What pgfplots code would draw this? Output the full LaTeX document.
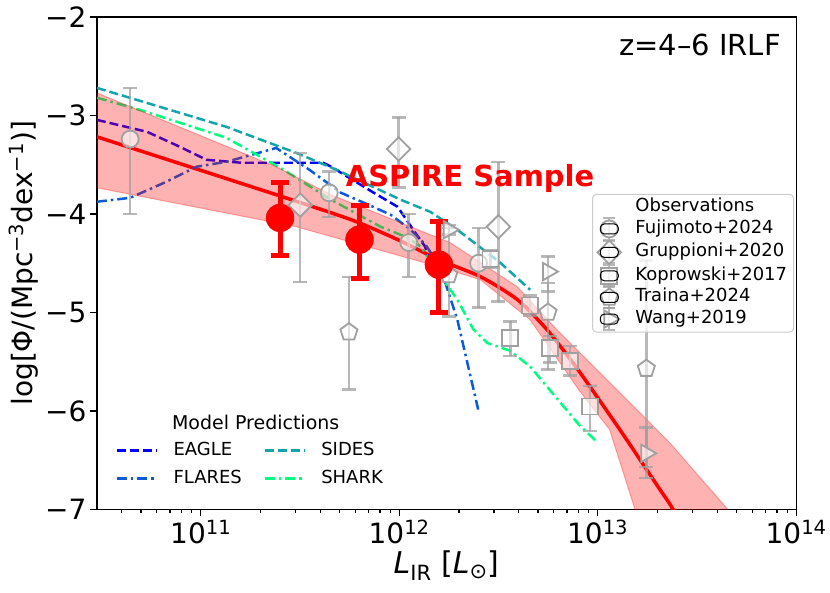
\documentclass[border=0pt]{standalone}
\usepackage{fontspec}
\setmainfont{DejaVu Sans}
\usepackage{pgfplots}
\usepackage{pgfplotstable}
\pgfplotsset{compat=1.18}
\usetikzlibrary{plotmarks}

\definecolor{eaglec}{RGB}{0,0,255}
\definecolor{flaresc}{RGB}{10,90,220}
\definecolor{sidesc}{RGB}{20,165,170}
\definecolor{sharkc}{RGB}{0,255,127}
\definecolor{obsgray}{RGB}{160,160,160}

% observations: x, log Phi, +err, -err
\pgfplotstableread{
x y ep em
4.41e10 -3.24 0.52 0.76
4.44e11 -3.785 0.215 0.245
1.117e12 -4.29 0.29 0.35
2.512e12 -4.50 0.36 0.45
}\fujimoto
\pgfplotstableread{
x y ep em
3.17e11 -3.91 0.53 0.78
9.93e11 -3.34 0.32 0.39
3.162e12 -4.13 0.66 0.76
}\gruppioni
\pgfplotstableread{
x y ep em
2.884e12 -4.455 0.09 0.09
4.57e12 -4.93 0.10 0.10
3.63e12 -5.26 0.17 0.18
5.75e12 -5.36 0.12 0.15
7.24e12 -5.49 0.15 0.15
9.12e12 -5.955 0.21 0.25
}\koprowski
\pgfplotstableread{
x y ep em
5.58e11 -5.20 0.56 0.58
1.778e12 -4.62 0.48 0.42
5.62e12 -5.00 0.30 0.58
1.758e13 -5.57 1.10 1.11
}\traina
\pgfplotstableread{
x y ep em
1.778e12 -4.16 0.05 0.05
5.62e12 -4.585 0.155 0.20
1.758e13 -6.43 0.26 0.14
}\wang
\pgfplotstableread{
x y ep em
2.51e11 -4.04 0.36 0.38
6.31e11 -4.26 0.35 0.40
1.585e12 -4.515 0.44 0.485
}\aspire

\pgfplotsset{
  obs/.style={only marks, color=obsgray, line width=1.8pt, mark size=8.5pt,
    mark options={fill=white, fill opacity=0.6, draw=obsgray, line width=1.8pt, #1},
    error bars/y dir=both, error bars/y explicit,
    error bars/error bar style={obsgray, line width=2.5pt, opacity=0.75},
    error bars/error mark options={rotate=90, mark size=7pt, obsgray, line width=2.5pt, opacity=0.75}},
  obs/.default={},
  obsleg/.style={legend image code/.code={
      \draw[obsgray, line width=2pt, opacity=0.75, overlay] (0pt,-11pt)--(0pt,11pt) (-6pt,-11pt)--(6pt,-11pt) (-6pt,11pt)--(6pt,11pt);
      \draw[obsgray, line width=1.8pt, mark size=8.5pt, #1] plot coordinates {(0pt,0pt)};
      \path (-9pt,-5pt) rectangle (9pt,5pt);}},
}

\begin{document}
\begin{tikzpicture}
\begin{axis}[
  scale only axis, width=700pt, height=493pt,
  xmode=log, xmin=3e10, xmax=1e14, ymin=-7, ymax=-2,
  xtick={1e11,1e12,1e13,1e14},
  xticklabels={10\textsuperscript{11},10\textsuperscript{12},10\textsuperscript{13},10\textsuperscript{14}},
  minor xtick={4e10,5e10,6e10,7e10,8e10,9e10,2e11,3e11,4e11,5e11,6e11,7e11,8e11,9e11,
    2e12,3e12,4e12,5e12,6e12,7e12,8e12,9e12,2e13,3e13,4e13,5e13,6e13,7e13,8e13,9e13},
  ytick={-7,-6,-5,-4,-3,-2},
  yticklabels={−7,−6,−5,−4,−3,−2},
  tick pos=left, tick align=outside,
  major tick length=7pt, minor tick length=4pt,
  tick style={black, line width=1.2pt},
  axis line style={line width=1.3pt},
  tick label style={font=\fontsize{28}{32}\selectfont},
  label style={font=\fontsize{28}{32}\selectfont},
  xlabel={\fontsize{30}{34}\selectfont\textit{L}\textsubscript{IR} [\textit{L}\textsubscript{⊙}]},
  ylabel={log[Φ/(Mpc\textsuperscript{−3}dex\textsuperscript{−1})]},
  legend columns=2,
  legend image code/.code={\draw[#1] (0pt,0pt)--(40pt,0pt);},
  legend style={at={(0.0264,0.140)}, anchor=north west, draw=none, fill=none,
    inner sep=0pt, font=\fontsize{18}{21.6}\selectfont, row sep=8pt,
    nodes={inner sep=1.5pt, text height=13pt, text depth=4pt},
    /tikz/every odd column/.append style={column sep=14pt},
    /tikz/every even column/.append style={column sep=20pt}},
  legend cell align=left,
]
% best fit
\addplot[red, line width=3.5pt, smooth, tension=0.4, forget plot] coordinates {
  (3.0e10,-3.217) (1.0e11,-3.557) (2.404e11,-3.805) (4.54e11,-3.988) (6.28e11,-4.089)
  (9.86e11,-4.262) (1.581e12,-4.464) (2.57e12,-4.637) (3.945e12,-4.870) (5.55e12,-5.174)
  (7.50e12,-5.51) (9.12e12,-5.75) (1.334e13,-6.23) (2.046e13,-6.79) (2.35e13,-6.97) (2.8e13,-7.25)};
% models
\addplot[eaglec, line width=2.5pt, dash pattern=on 9pt off 4pt] coordinates {
  (3.0e10,-3.045) (5.37e10,-3.166) (7.85e10,-3.318) (1.07e11,-3.45) (1.607e11,-3.48)
  (2.82e11,-3.48) (4.14e11,-3.48) (4.54e11,-3.52) (7.45e11,-3.785) (9.82e11,-3.927)
  (1.175e12,-4.16) (1.35e12,-4.33) (1.396e12,-4.43)};
\addlegendentry{EAGLE}
\addplot[sidesc, line width=2.5pt, dash pattern=on 9pt off 4pt] coordinates {
  (3.0e10,-2.72) (1.35e11,-3.116) (3.03e11,-3.38) (4.81e11,-3.55) (1.019e12,-3.856)
  (1.439e12,-3.98) (1.963e12,-4.16) (3.228e12,-4.495) (4.57e12,-4.77)};
\addlegendentry{SIDES}
\addplot[flaresc, line width=2.5pt, dash pattern=on 10pt off 4pt on 2.5pt off 4pt] coordinates {
  (3.0e10,-3.876) (4.41e10,-3.836) (6.53e10,-3.684) (9.55e10,-3.52) (1.35e11,-3.47)
  (2.40e11,-3.33) (3.52e11,-3.55) (5.09e11,-3.785) (6.64e11,-3.886) (9.06e11,-4.008)
  (1.143e12,-4.16) (1.358e12,-4.312) (1.614e12,-4.546) (1.963e12,-5.073) (2.50e12,-5.986)};
\addlegendentry{FLARES}
\addplot[sharkc, line width=2.5pt, dash pattern=on 10pt off 4pt on 2.5pt off 4pt] coordinates {
  (3.0e10,-2.82) (4.94e10,-2.943) (1.35e11,-3.227) (2.61e11,-3.55) (4.54e11,-3.856)
  (8.07e11,-4.13) (1.104e12,-4.24) (1.283e12,-4.33) (1.671e12,-4.67) (1.963e12,-4.87)
  (2.36e12,-5.17) (2.78e12,-5.31) (3.63e12,-5.39) (4.57e12,-5.55) (8.13e12,-6.15) (1.0e13,-6.32)};
\addlegendentry{SHARK}
% uncertainty band
\addplot[fill=red, fill opacity=0.3, draw=red, draw opacity=0.3, line width=1pt, forget plot] coordinates {
  (3.0e10,-2.771) (2.40e11,-3.521) (4.54e11,-3.805) (1.81e12,-4.292) (3.93e12,-4.738)
  (6.22e12,-5.174) (2.30e13,-6.320) (4.44e13,-6.980) (6.46e13,-7.355)
  (1.62e13,-7.2) (1.53e13,-6.98) (1.148e13,-6.189) (8.13e12,-5.80) (4.56e12,-5.073)
  (2.56e12,-4.667) (1.578e12,-4.535) (3.03e11,-4.13) (3.0e10,-3.734)} -- cycle;
\node[font=\fontsize{19}{22}\selectfont] at (rel axis cs:0.227,0.176) {Model Predictions};
\end{axis}

\begin{axis}[
  scale only axis, width=700pt, height=493pt,
  xmode=log, xmin=3e10, xmax=1e14, ymin=-7, ymax=-2,
  hide axis,
  legend style={at={(0.997,0.641)}, anchor=north east, draw=black!20, line width=1pt,
    rounded corners=4pt, fill=white, fill opacity=0.8, text opacity=1, draw opacity=1,
    inner xsep=5pt, inner ysep=3pt, font=\fontsize{18}{21.6}\selectfont, row sep=1.7pt,
    nodes={inner sep=1.5pt, text height=13pt, text depth=4pt},
    /tikz/every odd column/.append style={column sep=13pt}},
  legend cell align=left,
]
\addplot[obs, mark=*, forget plot] table[x=x, y=y, y error plus=ep, y error minus=em] {\fujimoto};
\addplot[obs={rotate=45}, mark=square*, mark size=8.3pt, forget plot] table[x=x, y=y, y error plus=ep, y error minus=em] {\gruppioni};
\addplot[obs, mark=square*, mark size=8pt, forget plot] table[x=x, y=y, y error plus=ep, y error minus=em] {\koprowski};
\addplot[obs, mark=pentagon*, mark size=9pt, forget plot] table[x=x, y=y, y error plus=ep, y error minus=em] {\traina};
\addplot[obs={rotate=-90}, mark=triangle*, mark size=10pt, forget plot] table[x=x, y=y, y error plus=ep, y error minus=em] {\wang};
\addplot[only marks, red, mark=*, mark size=14pt, forget plot,
  error bars/y dir=both, error bars/y explicit,
  error bars/error bar style={red, line width=5pt},
  error bars/error mark options={rotate=90, red, mark size=9pt, line width=5pt}]
  table[x=x, y=y, y error plus=ep, y error minus=em] {\aspire};

\addlegendimage{empty legend}\addlegendentry{Observations}
\addlegendimage{obsleg={mark=*, mark options={fill=white, draw=obsgray}}}\addlegendentry{Fujimoto+2024}
\addlegendimage{obsleg={mark=square*, mark size=8.3pt, mark options={fill=white, draw=obsgray, rotate=45}}}\addlegendentry{Gruppioni+2020}
\addlegendimage{obsleg={mark=square*, mark size=8pt, mark options={fill=white, draw=obsgray}}}\addlegendentry{Koprowski+2017}
\addlegendimage{obsleg={mark=pentagon*, mark size=9pt, mark options={fill=white, draw=obsgray}}}\addlegendentry{Traina+2024}
\addlegendimage{obsleg={mark=triangle*, mark size=10pt, mark options={fill=white, draw=obsgray, rotate=-90}}}\addlegendentry{Wang+2019}

\node[anchor=west, text=red, font=\fontsize{29}{33}\selectfont\bfseries] at (rel axis cs:0.351,0.673) {ASPIRE Sample};
\node[anchor=east, font=\fontsize{29}{33}\selectfont] at (rel axis cs:0.983,0.943) {z=4–6 IRLF};
\end{axis}
\path (current axis.south west) ++(-97pt,-83pt) rectangle ([xshift=33pt,yshift=17pt]current axis.north east);
\end{tikzpicture}
\end{document}
